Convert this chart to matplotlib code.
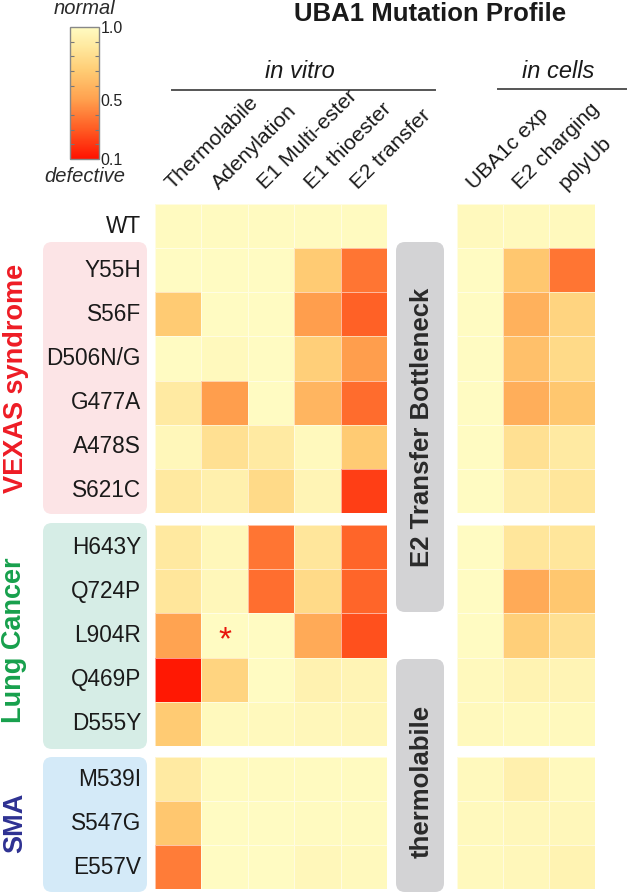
import numpy as np
import matplotlib
matplotlib.use("Agg")
import matplotlib.pyplot as plt
from matplotlib.colors import LinearSegmentedColormap, Normalize
from matplotlib.patches import FancyBboxPatch
import matplotlib.colorbar as mcolorbar

plt.rcParams['font.family'] = ['Liberation Sans', 'DejaVu Sans']

# ---------------- data ----------------
rows_wt_vexas = ["WT", "Y55H", "S56F", "D506N/G", "G477A", "A478S", "S621C"]
rows_lung = ["H643Y", "Q724P", "L904R", "Q469P", "D555Y"]
rows_sma = ["M539I", "S547G", "E557V"]

cols_vitro = ["Thermolabile", "Adenylation", "E1 Multi-ester", "E1 thioester", "E2 transfer"]
cols_cells = ["UBA1c exp", "E2 charging", "polyUb"]

vitro_wt_vexas = [
    [0.99, 0.99, 0.99, 0.99, 0.99],
    [1.00, 1.00, 1.00, 0.70, 0.38],
    [0.70, 1.00, 1.00, 0.50, 0.32],
    [1.00, 0.98, 1.00, 0.72, 0.50],
    [0.88, 0.50, 1.00, 0.60, 0.35],
    [0.97, 0.82, 0.88, 0.98, 0.70],
    [0.87, 0.92, 0.78, 0.95, 0.22],
]
vitro_lung = [
    [0.87, 0.97, 0.38, 0.85, 0.33],
    [0.85, 0.97, 0.36, 0.78, 0.33],
    [0.52, 1.00, 1.00, 0.55, 0.27],
    [0.12, 0.75, 1.00, 0.93, 0.95],
    [0.70, 0.98, 0.98, 0.97, 0.96],
]
vitro_sma = [
    [0.88, 0.99, 0.99, 0.99, 0.99],
    [0.68, 1.00, 1.00, 0.99, 0.99],
    [0.40, 1.00, 1.00, 0.97, 0.98],
]
cells_wt_vexas = [
    [0.98, 0.98, 0.98],
    [1.00, 0.68, 0.38],
    [1.00, 0.58, 0.75],
    [1.00, 0.65, 0.78],
    [1.00, 0.57, 0.68],
    [1.00, 0.82, 0.88],
    [1.00, 0.90, 0.85],
]
cells_lung = [
    [1.00, 0.85, 0.85],
    [1.00, 0.55, 0.68],
    [1.00, 0.72, 0.82],
    [0.98, 0.94, 0.95],
    [0.98, 0.98, 0.98],
]
cells_sma = [
    [0.98, 0.92, 0.98],
    [0.98, 0.97, 0.97],
    [0.98, 0.97, 0.94],
]
cbar_ticks = [1.0, 0.5, 0.1]

# ---------------- figure ----------------
W, H = 627, 893
fig = plt.figure(figsize=(W / 100, H / 100), dpi=100)

def px_axes(x0, y0, x1, y1, **kw):
    return fig.add_axes([x0 / W, 1 - y1 / H, (x1 - x0) / W, (y1 - y0) / H], **kw)

cmap = LinearSegmentedColormap.from_list("def", [
    (0.0, "#ff1200"),
    (0.22, "#ff5a22"),
    (0.45, "#ffa04e"),
    (0.67, "#ffcc74"),
    (0.85, "#ffe89e"),
    (1.0, "#fffbc2"),
])
norm = Normalize(vmin=0.1, vmax=1.0)

# overlay axes for decoration
ov = px_axes(0, 0, W, H)
ov.set_xlim(0, W)
ov.set_ylim(H, 0)
ov.axis("off")
ov.set_zorder(0)

def rbox(x0, y0, x1, y1, color):
    p = FancyBboxPatch((x0, y0), x1 - x0, y1 - y0,
                       boxstyle="round,pad=0,rounding_size=9",
                       fc=color, ec="none", zorder=1)
    ov.add_patch(p)

rbox(43, 242, 147, 514, "#fce4e6")
rbox(43, 523, 147, 749, "#d6ede6")
rbox(43, 757, 147, 892, "#d4eaf8")
rbox(396, 242, 444, 612, "#d3d3d5")
rbox(396, 659, 444, 892, "#d3d3d5")

# heatmap blocks
groups = [
    (rows_wt_vexas, vitro_wt_vexas, cells_wt_vexas, 204, 513),
    (rows_lung, vitro_lung, cells_lung, 525, 746),
    (rows_sma, vitro_sma, cells_sma, 757, 889),
]
vx0, vx1 = 155, 387
cx0, cx1 = 457, 595
block_axes = {}
for gi, (names, vdat, cdat, y0, y1) in enumerate(groups):
    for pi, (x0, x1, dat) in enumerate([(vx0, vx1, vdat), (cx0, cx1, cdat)]):
        ax = px_axes(x0, y0, x1, y1)
        arr = np.array(dat)
        ax.pcolormesh(arr, cmap=cmap, norm=norm, edgecolors=(1, 1, 1, 0.55), linewidth=0.6)
        ax.set_xlim(0, arr.shape[1])
        ax.set_ylim(arr.shape[0], 0)
        ax.axis("off")
        block_axes[(gi, pi)] = ax
    rh = (y1 - y0) / len(names)
    for i, n in enumerate(names):
        yc = y0 + rh * (i + 0.5)
        ov.text(141, yc, n, ha="right", va="center", fontsize=16.3, color="#1a1a1a", zorder=5)

# asterisk (L904R, Adenylation)
axl = block_axes[(1, 0)]
axl.text(cols_vitro.index("Adenylation") + 0.5, rows_lung.index("L904R") + 0.62, "*",
         ha="center", va="center", fontsize=24, color="#e8140c")

# column labels
cw_v = (vx1 - vx0) / len(cols_vitro)
for i, c in enumerate(cols_vitro):
    xc = vx0 + cw_v * (i + 0.5)
    ov.text(xc - 3, 193, c, rotation=45, rotation_mode="anchor", ha="left", va="bottom",
            fontsize=15.3, color="#1a1a1a")
cw_c = (cx1 - cx0) / len(cols_cells)
for i, c in enumerate(cols_cells):
    xc = cx0 + cw_c * (i + 0.5)
    ov.text(xc - 3, 193, c, rotation=45, rotation_mode="anchor", ha="left", va="bottom",
            fontsize=15.3, color="#1a1a1a")

# headers
ov.text(430, 14, "UBA1 Mutation Profile", ha="center", va="center", fontsize=18.5,
        fontweight="bold", color="#1a1a1a")
ov.text(300, 72, "in vitro", ha="center", va="center", fontsize=17, style="italic", color="#1a1a1a")
ov.plot([172, 435], [90, 90], color="#555555", lw=1.4)
ov.text(558, 72, "in cells", ha="center", va="center", fontsize=17, style="italic", color="#1a1a1a")
ov.plot([498, 627], [89, 89], color="#555555", lw=1.4)

# group labels
ov.text(16, 378, "VEXAS syndrome", rotation=90, ha="center", va="center", fontsize=19.5,
        fontweight="bold", color="#ee1c25")
ov.text(14, 640, "Lung Cancer", rotation=90, ha="center", va="center", fontsize=19.5,
        fontweight="bold", color="#17a04c")
ov.text(15, 823, "SMA", rotation=90, ha="center", va="center", fontsize=19.5,
        fontweight="bold", color="#2e3192")
ov.text(422, 427, "E2 Transfer Bottleneck", rotation=90, ha="center", va="center", fontsize=18.5,
        fontweight="bold", color="#2a2a2a", zorder=5)
ov.text(422, 781, "thermolabile", rotation=90, ha="center", va="center", fontsize=18.5,
        fontweight="bold", color="#2a2a2a", zorder=5)

# colorbar
cax = px_axes(70, 27, 99, 159)
cb = mcolorbar.ColorbarBase(cax, cmap=cmap, norm=norm, orientation="vertical")
cb.outline.set_edgecolor("#888888")
cb.outline.set_linewidth(1.0)
cax.set_yticks(cbar_ticks)
cax.set_yticklabels([f"{t:.1f}" for t in cbar_ticks])
cax.yaxis.set_ticks_position("right")
cax.tick_params(axis="y", which="major", length=0, labelsize=11.5, pad=1, labelcolor="#222222")
cax.set_yticks(np.arange(0.2, 0.95, 0.1), minor=True)
cax.tick_params(axis="y", which="minor", direction="in", length=3, width=0.8,
                color="#777777", left=True, right=True)
ov.text(85, 9, "normal", ha="center", va="center", fontsize=14.5, style="italic", color="#2a2a2a")
ov.text(85, 177, "defective", ha="center", va="center", fontsize=14.5, style="italic", color="#2a2a2a")

fig.savefig("out.png", dpi=100)
